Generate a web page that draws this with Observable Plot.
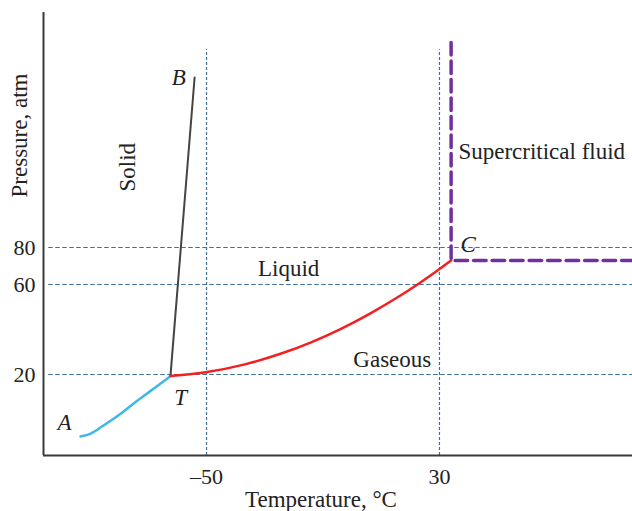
<!DOCTYPE html>
<html><head><meta charset="utf-8">
<script src="https://cdn.jsdelivr.net/npm/d3@7"></script>
<script src="https://cdn.jsdelivr.net/npm/@observablehq/plot@0.6"></script>
<style>html,body{margin:0;padding:0;background:#fff;}</style>
</head><body><div id="chart"></div>
<script>
// ---- data ----
const xTicks = [-50, 30];
const yTicks = [20, 60, 80];

// sublimation curve A -> T
const sublimationTemp = [-93.3, -89.8, -85.4, -79.5, -73.7, -68.2, -62.4];
const sublimationPress = [4.7, 5.4, 7.4, 10.3, 13.6, 16.5, 19.6];

// melting curve T -> B
const meltingTemp = [-62.4, -54.1];
const meltingPress = [19.6, 166.8];

// vaporization curve T -> C
const vaporTemp = [-62.4, -49.8, -37.2, -24.6, -14.3, -4.0, 6.3, 16.6, 22.3, 28.6, 34.0];
const vaporPress = [19.6, 21.1, 24.4, 29.2, 34.2, 40.2, 47.2, 55.1, 59.9, 66.8, 73.0];

// supercritical boundary
const criticalTemp = [34.0, 34.0, 96.3];
const criticalPress = [184.7, 73.0, 73.0];

// region / point labels
const labelText = ["Solid", "Liquid", "Gaseous", "Supercritical fluid"];
const labelTemp = [-77.0, -21.8, 13.8, 36.5];
const labelPress = [121.0, 68.6, 26.7, 129.0];
const pointText = ["A", "T", "B", "C"];
const pointTemp = [-98.8, -58.9, -59.5, 39.9];
const pointPress = [8.0, 14.4, 166.6, 81.5];

// axis title positions
const yTitle = {s: "Pressure, atm", t: -114.2, p: 137.2};
const xTitle = "Temperature, \u00B0C";

// axis extents
const xDomain = [-106, 96.3];
const yDomain = [0, 200];
const gridXStart = -104.2;
const gridYTop = 181;

// schematic (non-uniform) pressure axis: piecewise breakpoints
const pressBreaks = [0, 20, 60, 80, 200];
const pressSpan = [0, 81, 171, 208, 443];
const schematic = d3.scaleLinear().domain(pressBreaks).range(pressSpan);

const zip = (xs, ys) => xs.map((x, i) => ({t: x, p: ys[i]}));
const sublimation = zip(sublimationTemp, sublimationPress);
const melting = zip(meltingTemp, meltingPress);
const vapor = zip(vaporTemp, vaporPress);
const critical = zip(criticalTemp, criticalPress);
const labels = labelText.map((s, i) => ({s, t: labelTemp[i], p: labelPress[i]}));
const points = pointText.map((s, i) => ({s, t: pointTemp[i], p: pointPress[i]}));

const font = "'Liberation Serif', 'Times New Roman', serif";
const gridColor = "#3f6f9f";

const chart = Plot.plot({
  width: 632, height: 511,
  marginLeft: 43, marginRight: 0, marginTop: 12, marginBottom: 56,
  style: {fontFamily: font, fontSize: "22px", background: "#fff", color: "#222"},
  x: {domain: xDomain},
  y: {transform: schematic, domain: yDomain.map(schematic)},
  marks: [
    Plot.ruleY(yTicks, {x1: gridXStart, x2: xDomain[1], stroke: gridColor, strokeWidth: 1.2, strokeDasharray: "4.5,2.5"}),
    Plot.ruleX(xTicks, {y1: yDomain[0], y2: gridYTop, stroke: gridColor, strokeWidth: 1.2, strokeDasharray: "3,2"}),
    Plot.ruleX([xDomain[0]], {stroke: "#3a3a3a", strokeWidth: 2}),
    Plot.ruleY([yDomain[0]], {stroke: "#3a3a3a", strokeWidth: 2}),
    Plot.axisX({ticks: xTicks, tickSize: 0, tickPadding: 13, fontSize: 22, label: null,
      tickFormat: d => d < 0 ? "\u2013" + (-d) : String(d)}),
    Plot.axisY(yTicks, {tickSize: 0, tickPadding: 8, fontSize: 22, label: null, tickFormat: d => String(d)}),
    Plot.line(melting, {x: "t", y: "p", stroke: "#444", strokeWidth: 2}),
    Plot.line(sublimation, {x: "t", y: "p", stroke: "#3db8ea", strokeWidth: 2.5, curve: "monotone-x"}),
    Plot.line(vapor, {x: "t", y: "p", stroke: "#f42020", strokeWidth: 2.5, curve: "monotone-x"}),
    Plot.line(critical, {x: "t", y: "p", stroke: "#7030a0", strokeWidth: 3.5, strokeDasharray: "12.5,6"}),
    Plot.text(labels.filter(d => d.s === "Solid"), {x: "t", y: "p", text: "s", rotate: -90, fontSize: 23, fill: "#222"}),
    Plot.text(labels.filter(d => d.s !== "Solid" && d.s !== "Supercritical fluid"), {x: "t", y: "p", text: "s", fontSize: 23, fill: "#222"}),
    Plot.text(labels.filter(d => d.s === "Supercritical fluid"), {x: "t", y: "p", text: "s", fontSize: 23, fill: "#222", textAnchor: "start"}),
    Plot.text(points, {x: "t", y: "p", text: "s", fontSize: 23, fontStyle: "italic", fill: "#222"}),
    Plot.text([yTitle], {x: "t", y: "p", text: "s", rotate: -90, fontSize: 23, fill: "#222"}),
    Plot.text([xTitle], {frameAnchor: "bottom", dx: -17, dy: 51, fontSize: 23, fill: "#222"})
  ]
});
document.getElementById("chart").appendChild(chart);
</script>
</body></html>
